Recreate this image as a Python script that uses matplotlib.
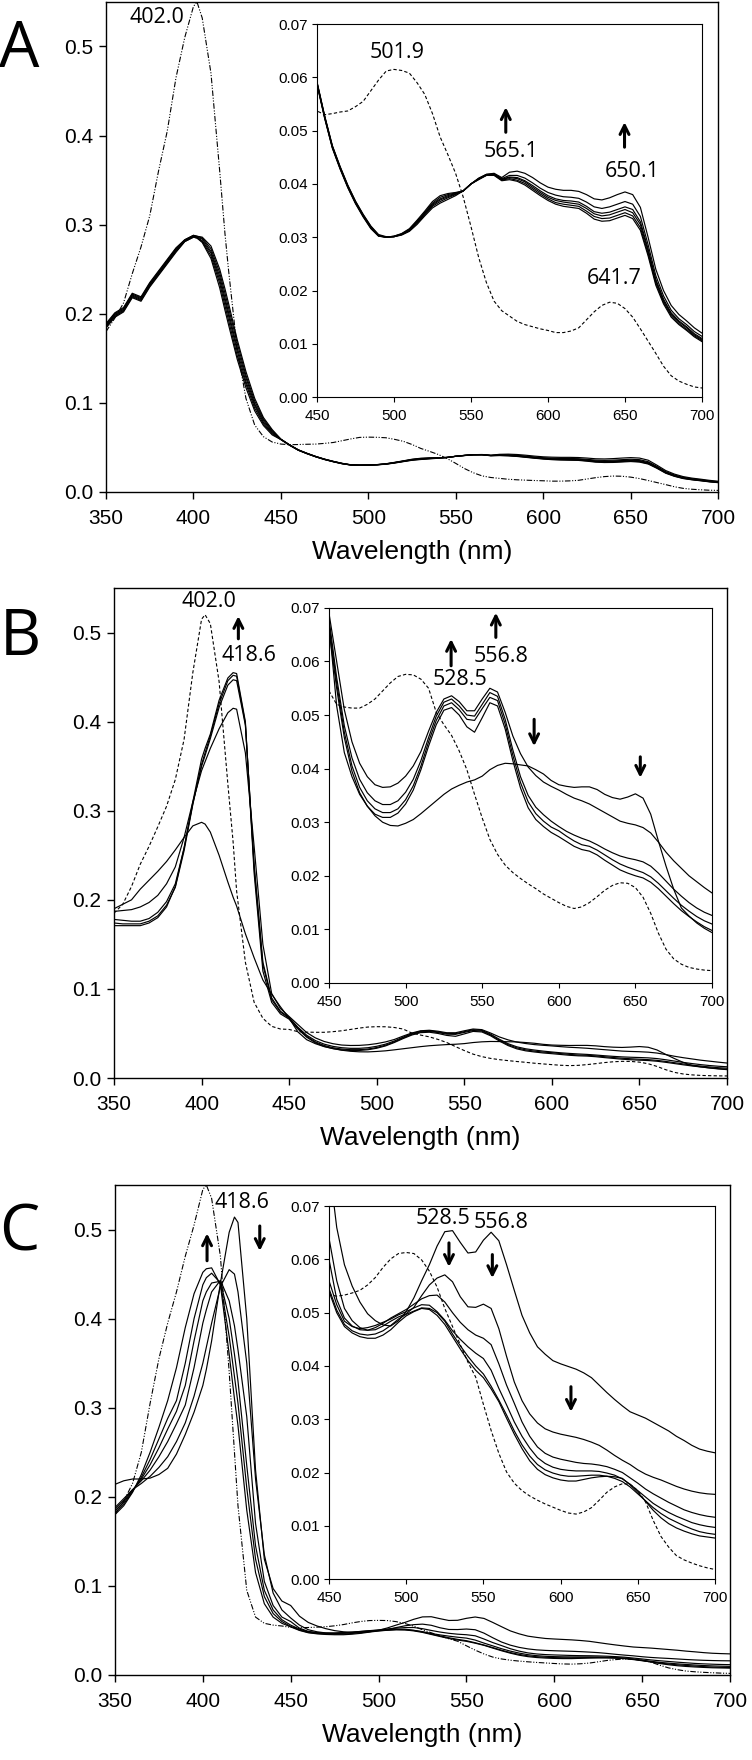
import numpy as np
import matplotlib.pyplot as plt

plt.rcParams['font.family'] = ['Liberation Sans', 'DejaVu Sans']

# wavelength grid (nm) shared by all spectra
wl = np.concatenate([np.arange(350, 401, 5), [402], np.arange(405, 416, 5), [418], np.arange(420, 701, 5)])

# ---------------- Panel A ----------------
A_ref = [.180, .195, .212, .245, .275, .310, .360, .405, .465, .510, .545, .550, .532, .470, .360, .290, .250, .160, .105, .075, .062, .056,
         .0537, .0530, .0532, .0535, .0537, .0545, .0555, .0575, .0595, .0612,
         .0615, .0613, .0608, .0590, .0568, .0532, .0488, .0455, .0420, .0375,
         .0320, .0262, .0215, .0180, .0162, .0152, .0142, .0136, .0132, .0128,
         .0125, .0121, .0121, .0124, .0130, .0145, .0160, .0172, .0178, .0176,
         .0166, .0150, .0128, .0105, .0082, .0058, .0040, .0030, .0024, .0019, .0017]
A_1 = [.189, .201, .207, .223, .219, .235, .248, .261, .274, .283, .288, .287, .286, .276, .250, .228, .212, .171, .135, .105, .0835, .070,
       .0592, .0528, .0472, .0433, .0398, .0368, .0343, .0321, .0305, .0301,
       .0301, .0304, .0311, .0324, .0340, .0355, .0364, .0371, .0378, .0387,
       .0400, .0411, .0418, .0420, .0412, .0422, .0424, .0420, .0412, .0402,
       .0394, .0390, .0388, .0388, .0386, .0380, .0372, .0370, .0374, .0380,
       .0385, .0380, .0356, .0300, .0240, .0200, .0172, .0155, .0143, .0130, .0120]
A_2 = [.188, .200, .206, .222, .218, .234, .247, .260, .273, .283, .288, .287, .285, .273, .246, .223, .207, .167, .131, .102, .0817, .0688,
       .0591, .0527, .0471, .0432, .0397, .0367, .0342, .0320, .0304, .0300,
       .0301, .0305, .0312, .0326, .0342, .0358, .0367, .0374, .0380, .0387,
       .0400, .0410, .0418, .0419, .0410, .0416, .0416, .0411, .0402, .0392,
       .0384, .0379, .0376, .0375, .0373, .0366, .0357, .0354, .0357, .0362,
       .0367, .0362, .0339, .0286, .0228, .0190, .0163, .0147, .0136, .0123, .0114]
A_3 = [.187, .199, .205, .221, .217, .233, .246, .259, .272, .282, .287, .286, .284, .270, .242, .218, .202, .162, .128, .099, .080, .0676,
       .0590, .0526, .0470, .0431, .0396, .0366, .0341, .0319, .0303, .0300,
       .0301, .0305, .0313, .0328, .0344, .0360, .0370, .0376, .0381, .0387,
       .0400, .0410, .0417, .0418, .0409, .0413, .0412, .0406, .0397, .0387,
       .0378, .0372, .0369, .0368, .0366, .0358, .0348, .0345, .0347, .0352,
       .0357, .0352, .0329, .0278, .0221, .0184, .0158, .0143, .0132, .0119, .0110]
A_4 = [.186, .198, .204, .220, .216, .232, .245, .258, .271, .282, .287, .286, .282, .268, .238, .214, .198, .158, .124, .097, .078, .0664,
       .0589, .0525, .0469, .0430, .0395, .0365, .0340, .0318, .0303, .0300,
       .0301, .0306, .0314, .0329, .0345, .0362, .0372, .0378, .0382, .0387,
       .0400, .0409, .0417, .0418, .0408, .0412, .0410, .0404, .0394, .0384,
       .0375, .0369, .0366, .0364, .0362, .0354, .0344, .0340, .0342, .0347,
       .0352, .0346, .0324, .0274, .0218, .0181, .0156, .0141, .0130, .0117, .0108]
A_5 = [.185, .197, .203, .219, .215, .231, .244, .257, .270, .281, .286, .285, .281, .265, .234, .209, .193, .153, .121, .094, .0763, .0652,
       .0588, .0524, .0468, .0429, .0394, .0364, .0339, .0317, .0302, .0300,
       .0302, .0306, .0315, .0330, .0347, .0364, .0375, .0380, .0383, .0387,
       .0400, .0409, .0416, .0417, .0407, .0410, .0407, .0401, .0391, .0381,
       .0372, .0365, .0362, .0360, .0358, .0349, .0339, .0335, .0336, .0341,
       .0346, .0340, .0318, .0269, .0214, .0178, .0153, .0138, .0127, .0115, .0106]
A_6 = [.184, .196, .202, .218, .214, .230, .243, .256, .269, .281, .286, .285, .280, .262, .229, .204, .188, .149, .117, .091, .0745, .064,
       .0587, .0523, .0467, .0428, .0393, .0363, .0338, .0316, .0302, .0300,
       .0302, .0307, .0316, .0332, .0349, .0367, .0378, .0382, .0384, .0387,
       .0400, .0408, .0416, .0416, .0406, .0408, .0405, .0398, .0388, .0378,
       .0369, .0362, .0358, .0356, .0354, .0345, .0334, .0330, .0331, .0336,
       .0341, .0335, .0313, .0265, .0210, .0175, .0150, .0136, .0125, .0113, .0104]

# ---------------- Panel B ----------------
B_ref = [.185, .195, .215, .240, .260, .282, .305, .335, .380, .455, .515, .520, .510, .445, .330, .265, .210, .130, .085, .067, .058, .055,
         .0545, .0520, .0515, .0513, .0513, .0520, .0530, .0545, .0560, .0572,
         .0576, .0575, .0567, .0550, .0505, .0482, .0462, .0433, .0398, .0352,
         .0308, .0268, .0240, .0220, .0206, .0195, .0185, .0176, .0166, .0158,
         .0150, .0143, .0139, .0142, .0150, .0161, .0173, .0182, .0187, .0186,
         .0178, .0160, .0130, .0093, .0063, .0045, .0035, .0029, .0026, .0024, .0023]
B_0 = [.190, .195, .200, .212, .222, .232, .243, .256, .270, .283, .287, .285, .276, .250, .220, .203, .193, .162, .135, .110, .094, .080,
       .0670, .0517, .0430, .0385, .0352, .0330, .0312, .0300, .0294, .0293,
       .0298, .0305, .0316, .0328, .0340, .0352, .0362, .0369, .0375, .0379,
       .0386, .0398, .0406, .0410, .0409, .0407, .0405, .0398, .0390, .0378,
       .0370, .0367, .0365, .0366, .0366, .0361, .0352, .0346, .0343, .0347,
       .0353, .0345, .0315, .0265, .0218, .0175, .0140, .0125, .0112, .0102, .0094]
B_1 = [.187, .188, .189, .192, .197, .205, .218, .237, .270, .310, .345, .355, .370, .392, .410, .415, .414, .365, .260, .150, .095, .078,
       .0690, .0600, .0510, .0450, .0410, .0385, .0370, .0365, .0366, .0373,
       .0386, .0405, .0432, .0470, .0505, .0530, .0536, .0525, .0508, .0508,
       .0530, .0550, .0543, .0505, .0461, .0428, .0403, .0387, .0375, .0367,
       .0360, .0352, .0345, .0340, .0334, .0326, .0318, .0310, .0302, .0298,
       .0295, .0290, .0280, .0263, .0244, .0228, .0214, .0200, .0189, .0178, .0168]
B_2 = [.178, .177, .176, .176, .179, .186, .198, .218, .258, .308, .350, .362, .381, .416, .441, .447, .446, .396, .240, .130, .090, .075,
       .0680, .0570, .0480, .0420, .0380, .0355, .0340, .0333, .0333, .0340,
       .0356, .0380, .0415, .0458, .0498, .0524, .0530, .0517, .0500, .0498,
       .0520, .0542, .0535, .0492, .0435, .0385, .0350, .0328, .0314, .0302,
       .0292, .0283, .0276, .0270, .0265, .0258, .0250, .0243, .0237, .0233,
       .0230, .0226, .0218, .0205, .0190, .0175, .0162, .0150, .0140, .0132, .0126]
B_3 = [.174, .173, .173, .173, .176, .182, .194, .214, .255, .307, .352, .365, .384, .420, .446, .452, .451, .398, .236, .127, .088, .074,
       .0670, .0560, .0468, .0405, .0365, .0340, .0325, .0318, .0318, .0325,
       .0342, .0368, .0405, .0450, .0490, .0517, .0523, .0510, .0492, .0490,
       .0512, .0533, .0527, .0483, .0425, .0374, .0338, .0316, .0302, .0291,
       .0284, .0274, .0265, .0258, .0255, .0248, .0239, .0230, .0222, .0216,
       .0211, .0206, .0198, .0186, .0172, .0158, .0145, .0134, .0124, .0116, .0110]
B_4 = [.171, .171, .171, .171, .174, .180, .192, .215, .258, .310, .358, .370, .386, .424, .449, .455, .454, .400, .230, .120, .085, .072,
       .0660, .0550, .0458, .0395, .0355, .0330, .0315, .0309, .0309, .0317,
       .0334, .0360, .0398, .0442, .0482, .0509, .0514, .0500, .0478, .0468,
       .0495, .0523, .0517, .0474, .0415, .0364, .0327, .0305, .0292, .0281,
       .0273, .0264, .0255, .0249, .0246, .0239, .0229, .0220, .0211, .0205,
       .0200, .0196, .0188, .0176, .0162, .0148, .0135, .0124, .0114, .0105, .0098]

# ---------------- Panel C ----------------
C_ref = [.180, .195, .215, .250, .305, .355, .395, .430, .470, .505, .545, .550, .535, .470, .340, .250, .190, .095, .065, .058, .056, .055,
         .0534, .0531, .0533, .0537, .0542, .0552, .0566, .0585, .0601, .0611,
         .0613, .0611, .0599, .0578, .0548, .0508, .0474, .0440, .0407, .0379,
         .0328, .0279, .0236, .0201, .0180, .0166, .0156, .0148, .0141, .0135,
         .0129, .0124, .0122, .0126, .0134, .0148, .0163, .0173, .0179, .0178,
         .0166, .0145, .0110, .0080, .0060, .0044, .0036, .0030, .0025, .0021, .0018]
C_0 = [.214, .218, .220, .220, .221, .225, .232, .248, .270, .295, .325, .343, .375, .440, .497, .514, .508, .400, .230, .130, .097, .083,
       .0780, .0660, .0590, .0550, .0520, .0498, .0485, .0477, .0475, .0485,
       .0502, .0528, .0560, .0590, .0625, .0652, .0654, .0632, .0612, .0614,
       .0636, .0651, .0635, .0590, .0542, .0495, .0462, .0436, .0422, .0410,
       .0404, .0399, .0394, .0387, .0378, .0364, .0350, .0337, .0325, .0314,
       .0308, .0302, .0294, .0286, .0278, .0268, .0260, .0251, .0244, .0240, .0237]
C_1 = [.188, .198, .208, .215, .223, .233, .245, .262, .283, .313, .350, .368, .395, .436, .455, .450, .430, .350, .220, .135, .092, .073,
       .0640, .0560, .0508, .0485, .0472, .0467, .0468, .0475, .0484, .0492,
       .0498, .0510, .0532, .0552, .0565, .0571, .0558, .0530, .0511, .0510,
       .0516, .0508, .0470, .0418, .0370, .0335, .0310, .0293, .0282, .0276,
       .0272, .0269, .0266, .0262, .0257, .0251, .0242, .0232, .0223, .0215,
       .0205, .0197, .0191, .0186, .0180, .0174, .0169, .0165, .0162, .0160, .0159]
C_2 = [.186, .196, .208, .218, .230, .245, .262, .282, .303, .345, .395, .410, .430, .443, .420, .392, .365, .290, .170, .105, .078, .065,
       .0600, .0525, .0490, .0475, .0468, .0467, .0472, .0480, .0490, .0498,
       .0506, .0516, .0526, .0532, .0533, .0520, .0500, .0482, .0468, .0458,
       .0452, .0440, .0404, .0364, .0330, .0295, .0268, .0248, .0236, .0229,
       .0225, .0222, .0219, .0217, .0216, .0214, .0211, .0206, .0200, .0190,
       .0180, .0169, .0160, .0152, .0144, .0137, .0130, .0125, .0121, .0118, .0116]
C_3 = [.184, .194, .207, .220, .236, .255, .276, .296, .325, .375, .420, .430, .440, .442, .400, .360, .330, .235, .145, .095, .073, .062,
       .0560, .0515, .0484, .0474, .0470, .0472, .0476, .0482, .0488, .0496,
       .0502, .0509, .0515, .0514, .0502, .0486, .0466, .0450, .0436, .0424,
       .0414, .0392, .0358, .0327, .0295, .0268, .0246, .0228, .0217, .0210,
       .0206, .0204, .0203, .0203, .0203, .0202, .0199, .0195, .0188, .0178,
       .0166, .0154, .0142, .0133, .0125, .0118, .0112, .0106, .0102, .0099, .0097]
C_4 = [.182, .192, .206, .222, .242, .265, .288, .308, .350, .400, .438, .446, .451, .440, .380, .335, .305, .210, .130, .088, .069, .060,
       .0545, .0505, .0478, .0466, .0460, .0458, .0460, .0466, .0476, .0488,
       .0497, .0503, .0509, .0508, .0500, .0484, .0460, .0438, .0418, .0400,
       .0385, .0362, .0336, .0308, .0278, .0252, .0231, .0215, .0205, .0199,
       .0195, .0193, .0193, .0194, .0195, .0195, .0193, .0189, .0183, .0173,
       .0160, .0147, .0134, .0123, .0114, .0107, .0100, .0094, .0089, .0086, .0084]
C_5 = [.180, .190, .205, .225, .250, .278, .308, .345, .390, .428, .452, .456, .457, .438, .360, .310, .280, .185, .115, .080, .065, .058,
       .0540, .0500, .0474, .0462, .0455, .0452, .0452, .0458, .0468, .0482,
       .0494, .0502, .0508, .0506, .0495, .0478, .0455, .0432, .0410, .0392,
       .0378, .0357, .0333, .0302, .0272, .0245, .0222, .0206, .0196, .0190,
       .0186, .0184, .0184, .0187, .0190, .0192, .0193, .0192, .0189, .0177,
       .0163, .0146, .0129, .0115, .0104, .0096, .0090, .0085, .0081, .0079, .0077]

dashdotdot = (0, (5, 1.5, 1, 1.5, 1, 1.5))
dashed = (0, (3, 2))
num_font = 'Open Sans'

fig = plt.figure(figsize=(7.52, 17.6), dpi=100)


def make_main(rect, ref, ref_ls, curves):
    ax = fig.add_axes(rect)
    ax.plot(wl, ref, color='k', lw=0.8, ls=ref_ls)
    for c in curves:
        ax.plot(wl, c, color='k', lw=0.85)
    ax.set_xlim(350, 700)
    ax.set_ylim(0, 0.55)
    ax.set_xticks(range(350, 701, 50))
    ax.set_yticks([0, 0.1, 0.2, 0.3, 0.4, 0.5])
    ax.set_yticklabels(['0.0', '0.1', '0.2', '0.3', '0.4', '0.5'])
    ax.tick_params(direction='out', length=5, width=1, labelsize=15)
    ax.tick_params(axis='x', pad=7)
    ax.tick_params(axis='y', pad=4)
    for s in ax.spines.values():
        s.set_linewidth(1.0)
    ax.set_xlabel('Wavelength (nm)', fontsize=19, labelpad=9)
    return ax


def make_inset(rect, ref, curves):
    ax = fig.add_axes(rect)
    ax.plot(wl, ref, color='k', lw=0.8, ls=dashed)
    for c in curves:
        ax.plot(wl, c, color='k', lw=0.85)
    ax.set_xlim(450, 700)
    ax.set_ylim(0, 0.07)
    ax.set_xticks(range(450, 701, 50))
    ax.set_yticks(np.arange(0, 0.071, 0.01))
    ax.set_yticklabels(['0.00', '0.01', '0.02', '0.03', '0.04', '0.05', '0.06', '0.07'])
    ax.tick_params(direction='out', length=3.5, width=0.8, labelsize=11, pad=3)
    ax.tick_params(axis='x', pad=5)
    for s in ax.spines.values():
        s.set_linewidth(0.8)
    return ax


def label(ax, x, y, s):
    ax.text(x, y, s, ha='center', va='center', fontsize=15.5, family=num_font)


def arrow(ax, x, y0, y1):
    ax.annotate('', xy=(x, y1), xytext=(x, y0),
                arrowprops=dict(arrowstyle='->', lw=2.2, color='k', mutation_scale=16,
                                shrinkA=0, shrinkB=0))


# Panel A
axA = make_main([0.141, 0.7205, 0.814, 0.2784], A_ref, dashdotdot, [A_1, A_2, A_3, A_4, A_5, A_6])
label(axA, 379, 0.533, '402.0')
inA = make_inset([0.4215, 0.7744, 0.512, 0.2119], A_ref, [A_1, A_2, A_3, A_4, A_5, A_6])
label(inA, 502, 0.0646, '501.9')
label(inA, 576.3, 0.0461, '565.1')
label(inA, 654.7, 0.0423, '650.1')
label(inA, 642.8, 0.0222, '641.7')
arrow(inA, 572.6, 0.0497, 0.0544)
arrow(inA, 649.7, 0.0469, 0.0516)

# Panel B
axB = make_main([0.1516, 0.3875, 0.8152, 0.2784], B_ref, dashed, [B_0, B_1, B_2, B_3, B_4])
label(axB, 404.1, 0.535, '402.0')
label(axB, 426.8, 0.4745, '418.6')
arrow(axB, 421, 0.493, 0.5185)
inB = make_inset([0.4375, 0.4415, 0.5093, 0.2131], B_ref, [B_0, B_1, B_2, B_3, B_4])
label(inB, 535.6, 0.0566, '528.5')
label(inB, 562.2, 0.0609, '556.8')
arrow(inB, 529.7, 0.0592, 0.0642)
arrow(inB, 558.9, 0.0645, 0.0691)
arrow(inB, 583.9, 0.0492, 0.0442)
arrow(inB, 653.2, 0.0422, 0.0383)

# Panel C
axC = make_main([0.1529, 0.0483, 0.8178, 0.2784], C_ref, dashdotdot, [C_0, C_1, C_2, C_3, C_4, C_5])
label(axC, 422.3, 0.530, '418.6')
arrow(axC, 402.4, 0.465, 0.4957)
arrow(axC, 432.4, 0.504, 0.476)
inC = make_inset([0.4375, 0.1028, 0.5133, 0.2119], C_ref, [C_0, C_1, C_2, C_3, C_4, C_5])
label(inC, 524, 0.0677, '528.5')
label(inC, 561.2, 0.0669, '556.8')
arrow(inC, 527.7, 0.0631, 0.0586)
arrow(inC, 555.8, 0.0609, 0.0565)
arrow(inC, 606.7, 0.0361, 0.0314)

for x, y, s in [(0.0253, 0.9716, 'A'), (0.0266, 0.6375, 'B'), (0.0253, 0.2994, 'C')]:
    fig.text(x, y, s, fontsize=46, family=num_font, ha='center', va='center')

fig.savefig('out.png', dpi=100)
